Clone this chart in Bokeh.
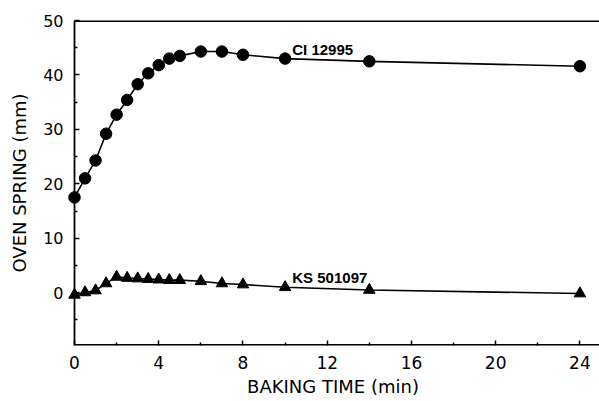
from bokeh.plotting import figure
from bokeh.models import Range1d, FixedTicker, LinearAxis, Label
from bokeh.embed import file_html
from bokeh.resources import INLINE

# ---- data ----
time_ci = [0, 0.5, 1, 1.5, 2, 2.5, 3, 3.5, 4, 4.5, 5, 6, 7, 8, 10, 14, 24]
spring_ci = [17.5, 21.0, 24.3, 29.2, 32.7, 35.4, 38.3, 40.3, 41.8, 43.0, 43.5,
             44.3, 44.3, 43.7, 43.0, 42.5, 41.6]
time_ks = [0, 0.5, 1, 1.5, 2, 2.5, 3, 3.5, 4, 4.5, 5, 6, 7, 8, 10, 14, 24]
spring_ks = [-0.4, 0.05, 0.4, 1.7, 2.9, 2.7, 2.6, 2.5, 2.4, 2.3, 2.3,
             2.1, 1.7, 1.5, 1.0, 0.5, -0.15]
label_ci = "CI 12995"
label_ks = "KS 501097"
x_ticks = [0, 4, 8, 12, 16, 20, 24]
x_minor = [2, 6, 10, 14, 18, 22]
y_ticks = [0, 10, 20, 30, 40, 50]
y_minor = [-5, 5, 15, 25, 35, 45]
x_title = "BAKING TIME (min)"
y_title = "OVEN SPRING (mm)"

# ---- frame geometry ----
X0, X1 = 0, 24.93
Y0, Y1 = -9.7, 50
PAD = 8  # px gap between frame left edge and the y axis at x = 0

p = figure(width=599, height=401, output_backend="svg", toolbar_location=None,
           x_range=Range1d(-0.38, X1), y_range=Range1d(Y0, Y1),
           x_axis_location=None, y_axis_location=None,
           min_border_left=66, min_border_right=0, min_border_top=20, min_border_bottom=56)
p.grid.visible = False
p.outline_line_color = None
p.background_fill_color = "white"
p.border_fill_color = "white"

FONT = "DejaVu Sans"

xaxis = LinearAxis(ticker=FixedTicker(ticks=x_ticks, minor_ticks=x_minor),
                   axis_label=x_title)
yaxis = LinearAxis(ticker=FixedTicker(ticks=y_ticks, minor_ticks=y_minor),
                   axis_label=y_title)
for ax in (xaxis, yaxis):
    ax.axis_line_color = None
    ax.major_tick_line_color = "black"
    ax.major_tick_line_width = 1.5
    ax.minor_tick_line_color = "black"
    ax.minor_tick_line_width = 1.5
    ax.major_label_text_font = FONT
    ax.major_label_text_font_size = "16px"
    ax.major_label_text_color = "black"
    ax.axis_label_text_font = FONT
    ax.axis_label_text_font_size = "18px"
    ax.axis_label_text_font_style = "normal"
    ax.axis_label_text_color = "black"
xaxis.major_label_text_font_size = "17px"
xaxis.major_tick_in = 5
xaxis.major_tick_out = 0
xaxis.minor_tick_in = 3
xaxis.minor_tick_out = 0
xaxis.major_label_standoff = 10
xaxis.axis_label_standoff = 4
# y ticks shifted inward so they start on the x = 0 axis line
yaxis.major_tick_in = PAD + 5
yaxis.major_tick_out = -PAD
yaxis.minor_tick_in = PAD + 3
yaxis.minor_tick_out = -PAD
yaxis.major_label_standoff = PAD + 3
yaxis.axis_label_standoff = 10
p.add_layout(xaxis, "below")
p.add_layout(yaxis, "left")

# frame lines: left axis at x = 0, bottom and top edges
p.segment(x0=[X0], y0=[Y0], x1=[X0], y1=[Y1], line_color="black", line_width=1.8)
p.segment(x0=[X0, X0], y0=[Y0, Y1], x1=[X1, X1], y1=[Y0, Y1],
          line_color="black", line_width=3.2)

# series
p.line(time_ci, spring_ci, line_color="black", line_width=1.6)
p.scatter(time_ci, spring_ci, marker="circle", size=11.5, fill_color="black", line_color="black")
p.line(time_ks, spring_ks, line_color="black", line_width=1.6)
p.scatter(time_ks, spring_ks, marker="triangle", size=11.5, fill_color="black", line_color="black")

p.add_layout(Label(x=10.34, y=44.6, text=label_ci, text_font="Liberation Sans",
                   text_font_style="bold", text_font_size="15px", text_color="black",
                   text_baseline="alphabetic", text_align="left"))
p.add_layout(Label(x=10.34, y=2.8, text=label_ks, text_font="Liberation Sans",
                   text_font_style="bold", text_font_size="15px", text_color="black",
                   text_baseline="alphabetic", text_align="left"))

open("out.html", "w").write(file_html(p, INLINE))
